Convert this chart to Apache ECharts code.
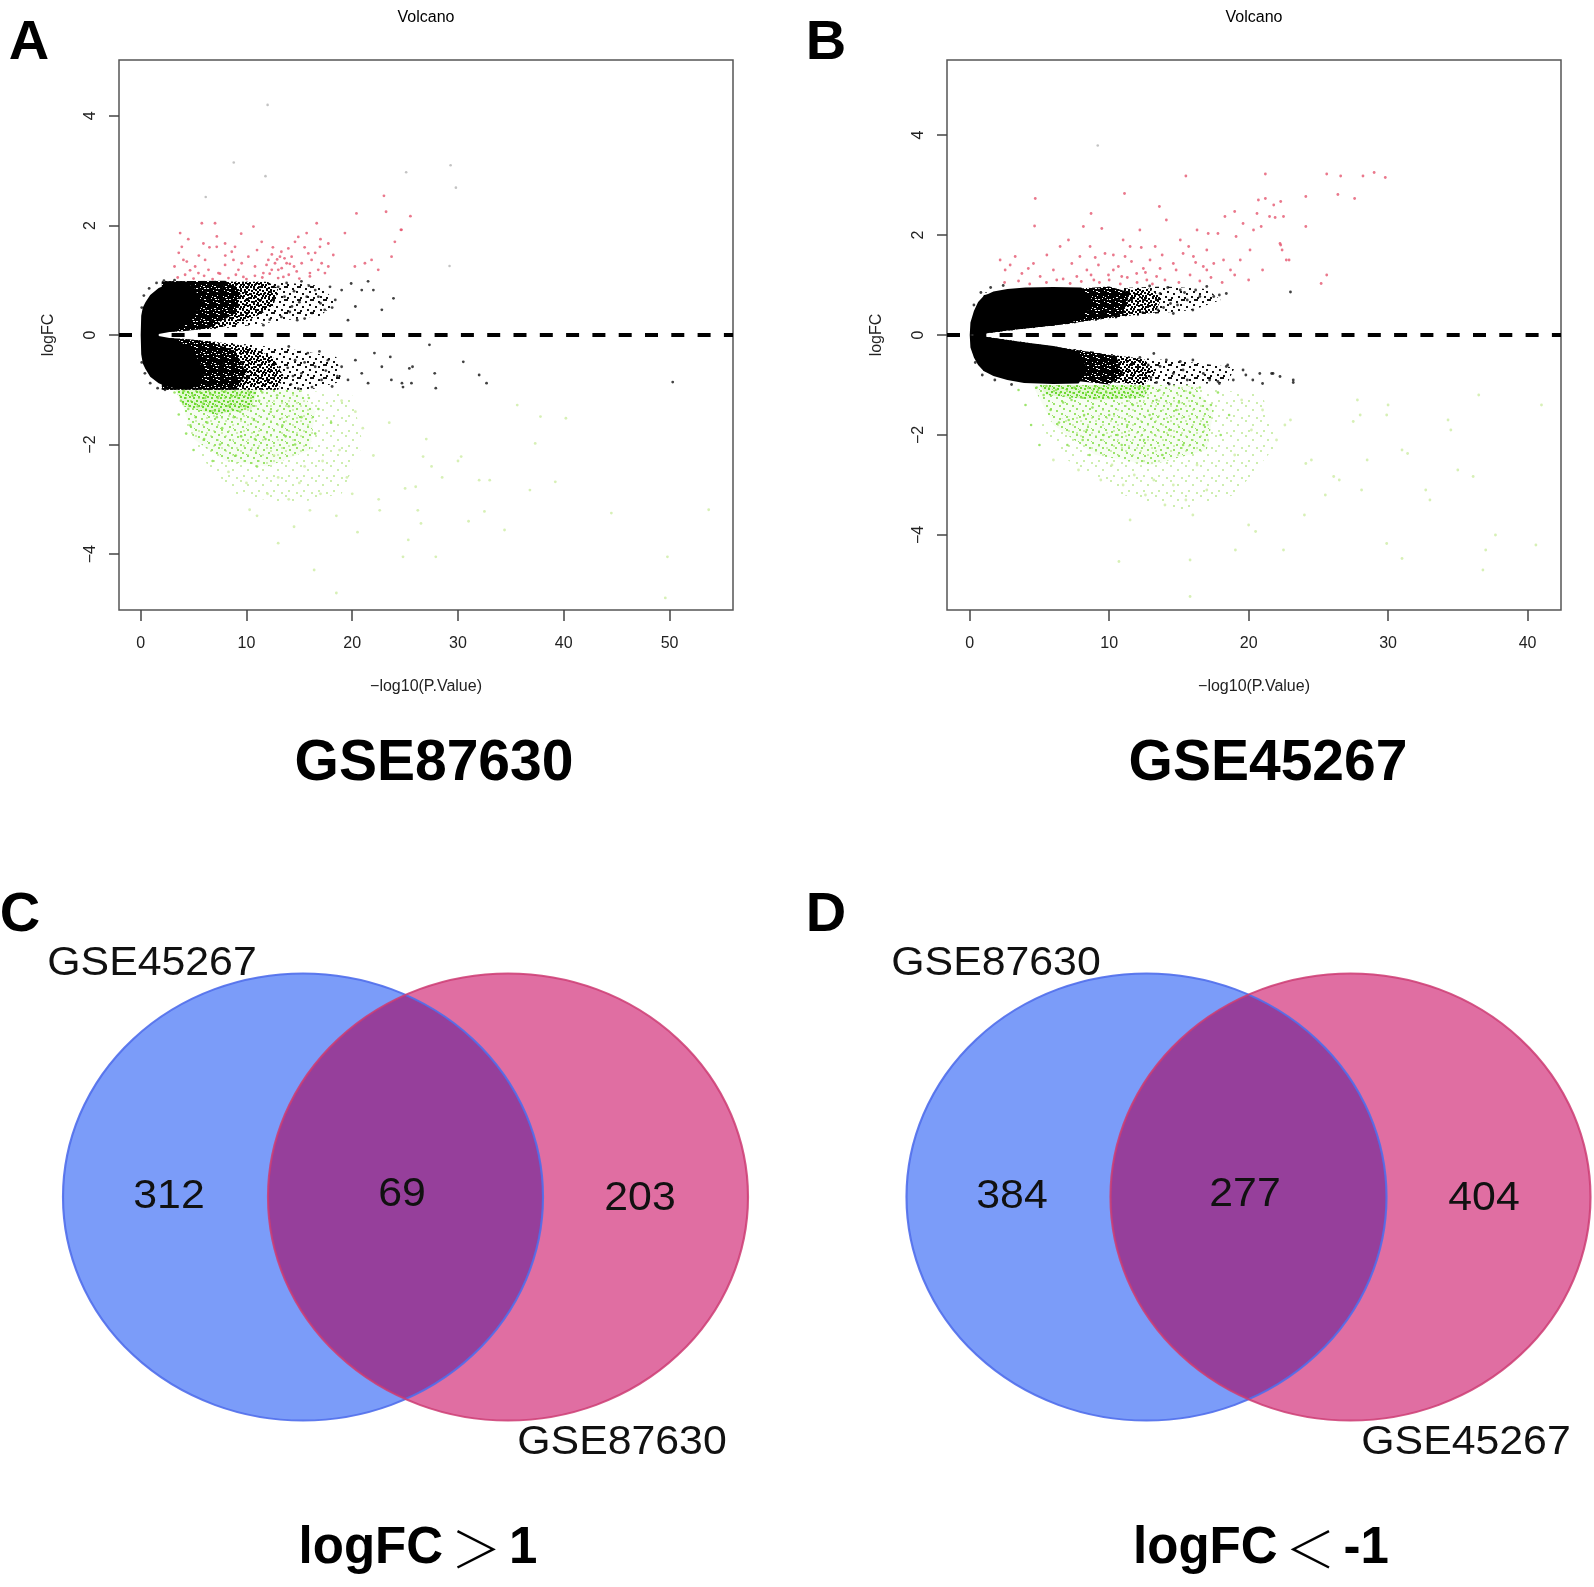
<!DOCTYPE html>
<html><head><meta charset="utf-8">
<script src="https://cdn.jsdelivr.net/npm/echarts@6/dist/echarts.min.js"></script>
<style>html,body{margin:0;padding:0;background:#fff}#c{width:1594px;height:1587px}</style>
</head><body><div id="c"></div>
<script>
// ---------------- DATA ----------------
const xTicksA = [0, 10, 20, 30, 40, 50];
const xTicksB = [0, 10, 20, 30, 40];
const yTicks = [-4, -2, 0, 2, 4];
const datasetNames = ['GSE87630', 'GSE45267'];
const vennCSets = ['GSE45267', 'GSE87630'];
const vennCCounts = [312, 69, 203];
const vennDSets = ['GSE87630', 'GSE45267'];
const vennDCounts = [384, 277, 404];
const vennTitles = [['logFC', '＞', '1'], ['logFC', '＜', '-1']];

// contours of the non-significant cloud (x = -log10 P, y = logFC), outer (sparse) to inner (solid)
const lightA = [
  [[2,0.05],[2,0.98],[14,0.95],[17,0.9],[18.5,0.6],[17,0.35],[13,0.25],[9,0.14]],
  [[2,-0.05],[2,-1.0],[16,-1.0],[19,-0.85],[18.5,-0.4],[14,-0.25],[9,-0.15]]
];
const midA = [
  [[2,0.05],[2,0.98],[12,0.97],[13,0.85],[12.5,0.5],[10,0.25],[7,0.12]],
  [[2,-0.05],[2,-1.0],[13,-1.0],[13.5,-0.75],[12.5,-0.4],[10,-0.2],[6,-0.1]]
];
const denseA = [
  [[2,0.05],[2,0.98],[8,0.99],[9.5,0.8],[9,0.4],[6.5,0.13],[4,0.07]],
  [[2,-0.05],[2,-1.0],[9,-1.0],[10,-0.7],[9,-0.3],[6.5,-0.12],[4,-0.07]]
];
const coreA = [[[0,0],[0.05,0.35],[0.2,0.5],[0.45,0.6],[0.9,0.73],[1.7,0.86],[2.6,0.93],[3.6,0.95],[5,0.9],[5.6,0.65],[5,0.3],[3.5,0.08],[1.7,0.02],[1.7,-0.02],[3.5,-0.08],[5,-0.3],[6,-0.65],[5.5,-0.95],[3.6,-0.98],[2.6,-0.95],[1.7,-0.88],[0.9,-0.76],[0.45,-0.62],[0.2,-0.52],[0.05,-0.35]]];
const lightB = [
  [[1,0.03],[1,0.85],[14,0.97],[17,0.92],[18,0.7],[16,0.5],[13,0.42],[8,0.25],[4,0.12]],
  [[1,-0.03],[1,-0.75],[15,-1.0],[18.5,-0.95],[19,-0.65],[16,-0.55],[12,-0.45],[8,-0.3],[4,-0.15]]
];
const midB = [
  [[1,0.03],[1,0.8],[12.7,0.95],[13.8,0.75],[13.3,0.45],[9,0.3],[4,0.13]],
  [[1,-0.03],[1,-0.72],[12.5,-1.0],[13.3,-0.75],[12.5,-0.48],[8,-0.32],[4,-0.15]]
];
const denseB = [
  [[1,0.03],[1,0.8],[10,0.97],[11.5,0.85],[11,0.4],[7,0.22],[3,0.1]],
  [[1,-0.03],[1,-0.72],[10,-0.99],[11,-0.8],[10.5,-0.42],[7,-0.27],[3,-0.12]]
];
const coreB = [
  [[0,0],[0.05,0.25],[0.3,0.48],[0.6,0.66],[1,0.78],[1.7,0.87],[2.7,0.92],[4,0.95],[6,0.96],[8,0.95],[8.8,0.7],[8,0.3],[6,0.19],[4,0.14],[2.7,0.09],[1.6,0.05],[0.8,0.015]],
  [[0,0],[0.05,-0.25],[0.3,-0.45],[0.6,-0.6],[1,-0.72],[1.7,-0.82],[2.7,-0.9],[3.9,-0.96],[6,-0.98],[7.8,-0.97],[8.5,-0.7],[7.8,-0.33],[6,-0.22],[4,-0.15],[2.7,-0.1],[1.6,-0.06],[0.8,-0.015]]
];
// contours of the down-regulated (green) cloud
const greenLightA = [[[15,-1.0],[20,-1.1],[21,-2.0],[19,-2.9],[14,-3.1],[9,-2.9],[6,-2.3],[4,-1.6]]];
const greenMidA = [[[3.5,-1.0],[15,-1.0],[16.5,-1.4],[16,-2.1],[12,-2.4],[8,-2.3],[5,-1.9]]];
const greenBandA = [[[3.3,-1.0],[11,-1.0],[10.5,-1.35],[7,-1.45],[4,-1.3]]];
const greenLightB = [[[15,-1.0],[21,-1.2],[22,-2.2],[19,-3.2],[15,-3.5],[11,-3.2],[7,-2.5],[5,-1.8]]];
const greenMidB = [[[4.5,-1.0],[16,-1.0],[17.5,-1.5],[17,-2.3],[13,-2.6],[9,-2.4],[6,-1.8]]];
const greenBandB = [[[5,-1.0],[13,-1.0],[12.5,-1.25],[9,-1.3],[5.5,-1.2]]];

// sparse black points
const blackA = [[13.0,0.88],[13.6,0.7],[14.3,0.52],[14.8,0.27],[15.2,0.98],[15.7,0.7],[16.2,0.4],[16.5,0.82],[17.0,0.58],[17.4,0.46],[17.9,0.88],[18.4,0.64],[19.0,0.82],[19.6,0.27],[19.9,0.94],[20.3,0.52],[20.9,0.82],[21.5,0.98],[22.8,0.46],[23.9,0.67],[22.0,0.82],[13.8,0.95],[14.5,0.8],[15.0,0.6],[15.9,0.9],[16.8,0.7],[14.1,0.42],[13.3,0.33],[15.5,0.3],[18.1,0.5],[12.2,0.28],[11.6,0.18],
  [14.0,-0.21],[14.6,-0.46],[15.2,-0.7],[15.8,-0.33],[16.5,-0.58],[17.1,-0.82],[17.7,-0.46],[18.1,-0.94],[19.0,-0.58],[19.6,-0.82],[20.3,-0.46],[20.9,-0.7],[21.5,-0.88],[22.1,-0.33],[22.8,-0.58],[23.6,-0.4],[23.7,-0.82],[24.7,-0.88],[25.4,-0.61],[25.6,-0.88],[27.3,-0.18],[27.8,-0.7],[27.9,-0.97],[30.5,-0.49],[32.0,-0.73],[32.7,-0.88],[50.3,-0.86],[25.7,-0.58],[24.8,-0.95],[14.2,-0.9],[14.9,-0.98],[15.5,-0.5],[16.2,-0.95],[16.9,-0.3],[13.9,-0.6],[14.4,-0.75],[17.5,-0.65],[18.6,-0.75],
  [0.3,0.72],[0.8,0.85],[1.5,0.95],[2.2,0.99],[3.2,1.0],[0.4,-0.7],[0.9,-0.88],[1.6,-0.97],[2.3,-1.0],[0.1,0.5],[0.1,-0.5]];
const blackB = [[13.65,0.83],[14.4,0.63],[14.6,0.43],[15.1,0.9],[15.6,0.7],[16.0,0.5],[16.5,0.77],[17.0,0.97],[17.5,0.77],[17.9,0.8],[18.4,0.83],[23.0,0.86],[13.9,0.55],[14.2,0.95],[14.9,0.6],[15.4,0.85],[16.2,0.9],[13.5,0.5],[12.9,0.98],[12.4,0.45],
  [13.2,-0.37],[13.65,-0.63],[14.1,-0.5],[14.6,-0.77],[15.1,-0.53],[15.6,-0.9],[16.0,-0.5],[16.75,-0.77],[17.2,-0.9],[17.9,-0.97],[18.4,-0.63],[18.9,-0.9],[19.6,-0.7],[20.3,-0.9],[20.8,-0.77],[21.65,-0.77],[22.25,-0.83],[23.2,-0.9],[23.2,-0.95],[21.75,-0.77],[21.0,-0.97],[19.8,-0.8],[18.5,-0.6],[17.8,-0.93],[13.0,-0.85],[13.4,-0.95],[12.8,-0.6],[14.3,-0.98],[15.3,-0.7],[12.2,-0.45],
  [0.3,0.6],[0.8,0.85],[1.5,0.95],[2.4,0.99],[0.4,-0.55],[0.9,-0.8],[1.8,-0.9],[3,-0.99]];

// up-regulated (red)
const redA = [[3.73,1.86],[3.89,1.61],[4.04,1.37],[4.36,1.34],[4.67,1.18],[5.78,2.04],[5.93,1.67],[5.15,1.25],[5.46,1.13],[6.09,1.37],[6.41,1.19],[7.03,2.04],[7.19,1.61],[7.35,1.13],[7.98,1.28],[7.98,1.67],[8.61,1.52],[8.77,1.37],[8.92,1.61],[9.24,1.19],[9.55,1.31],[9.71,1.06],[10.18,1.43],[10.66,1.98],[10.81,1.25],[11.44,1.7],[11.6,1.13],[12.07,1.37],[12.39,1.19],[12.7,1.31],[13.01,1.19],[13.17,1.43],[13.33,1.22],[13.49,1.06],[13.8,1.31],[13.96,1.58],[14.27,1.43],[14.59,1.7],[14.75,1.16],[14.9,1.79],[15.22,1.31],[15.69,1.86],[15.85,1.49],[16.0,1.13],[16.16,1.37],[16.64,2.04],[16.79,1.19],[16.95,1.61],[17.11,1.31],[17.42,1.13],[17.74,1.25],[17.74,1.67],[18.21,1.46],[19.31,1.86],[20.25,1.25],[21.2,1.31],[21.83,1.37],[22.46,1.19],[23.72,1.43],[24.03,1.7],[24.66,1.92],[3.5,1.05],[4.2,1.1],[5.0,1.03],[6.0,1.08],[6.8,1.02],[7.5,1.12],[8.3,1.04],[9.0,1.1],[10.0,1.02],[10.8,1.08],[11.5,1.05],[12.2,1.12],[13.0,1.04],[14.0,1.1],[15.0,1.03],[16.0,1.07],[3.2,1.25],[3.6,1.5],[4.5,1.75],[5.5,1.45],[6.5,1.6],[7.2,1.8],[8.0,1.45],[9.5,1.85],[11.0,1.55],[12.5,1.6],[13.6,1.4],[14.5,1.25],[15.5,1.6],[16.5,1.5],[17.0,1.75],[12.4,1.47],[12.9,1.38],[13.3,1.52],[14.1,1.3],[11.9,1.28],[20.4,2.22],[23.2,2.25],[25.5,2.17],[24.6,1.92],[23.0,2.54]];
const redB = [[2.18,1.5],[2.54,1.3],[2.9,1.4],[3.26,1.57],[3.74,1.23],[4.2,1.33],[4.57,1.43],[5.05,1.17],[5.53,1.6],[6.0,1.3],[6.24,1.1],[6.48,1.77],[7.08,1.9],[7.32,1.43],[7.68,1.17],[7.9,1.57],[8.15,2.17],[8.4,1.3],[8.63,1.77],[8.9,1.1],[9.23,1.4],[9.47,2.13],[9.7,1.63],[9.95,1.2],[10.3,1.3],[10.66,1.37],[10.9,1.17],[11.14,1.57],[11.5,1.77],[11.6,1.47],[11.97,1.23],[12.2,2.1],[12.45,1.33],[12.7,1.1],[12.93,1.5],[13.3,1.77],[13.4,1.17],[13.65,1.33],[14.1,2.3],[14.6,1.43],[15.1,1.9],[15.3,1.63],[15.7,1.77],[16.04,1.57],[16.3,2.1],[16.75,1.37],[17.0,1.7],[17.1,2.03],[17.5,1.43],[17.8,2.03],[18.2,1.5],[18.3,2.37],[18.7,1.3],[19.0,2.47],[19.1,1.97],[19.4,1.5],[19.6,2.23],[20.1,1.7],[20.35,2.1],[20.6,2.43],[20.7,2.7],[20.9,2.17],[21.2,2.73],[21.5,2.37],[21.8,2.6],[22.25,1.83],[22.4,1.7],[22.7,1.5],[2.5,1.05],[3.5,1.08],[4.3,1.02],[5.5,1.05],[6.7,1.12],[7.2,1.03],[8.0,1.07],[8.7,1.2],[9.3,1.05],[10.0,1.1],[10.8,1.02],[11.3,1.15],[12.0,1.05],[12.6,1.25],[13.1,1.02],[14.0,1.1],[15.0,1.05],[15.8,1.2],[16.5,1.08],[17.3,1.15],[18.1,1.05],[19.0,1.2],[20.0,1.1],[21.0,1.3],[10.3,1.6],[11.0,1.9],[9.0,1.55],[12.3,1.75],[13.8,1.6],[14.8,1.3],[16.2,1.45],[17.0,1.3],[15.5,3.18],[21.2,3.22],[25.6,3.22],[26.6,3.18],[28.2,3.18],[29.0,3.25],[29.8,3.15],[24.1,2.77],[26.4,2.81],[27.6,2.73],[11.1,2.83],[4.7,2.73],[4.65,2.18],[8.7,2.43],[13.6,2.57],[22.3,2.67],[22.5,2.37],[21.9,2.35],[24.1,2.17],[22.3,1.8],[22.9,1.5],[25.6,1.2],[25.2,1.03]];
// faint high outliers
const faintA = [[12.0,4.2],[8.8,3.15],[11.8,2.9],[29.3,3.1],[29.8,2.69],[6.15,2.52],[25.1,2.97],[29.2,1.26]];
const faintB = [[9.18,3.79]];

// down-regulated (green)
const greenA = [[3.2,-1.05],[3.8,-1.2],[4.1,-1.02],[4.5,-1.35],[4.9,-1.1],[5.2,-1.5],[5.6,-1.04],[5.9,-1.25],[6.3,-1.6],[6.6,-1.08],[7.0,-1.38],[7.3,-1.15],[7.7,-1.7],[8.0,-1.03],[8.4,-1.28],[8.8,-1.5],[9.1,-1.1],[9.5,-1.85],[9.9,-1.3],[10.3,-1.06],[10.7,-1.55],[11.2,-1.2],[11.8,-1.9],[12.3,-1.4],[12.9,-1.1],[13.4,-1.65],[14.0,-1.3],[14.6,-2.0],[15.2,-1.5],[15.9,-1.15],[16.5,-1.8],[18.0,-1.6],[4.3,-1.8],[5.0,-2.1],[6.0,-1.9],[6.8,-2.3],[7.5,-2.0],[9.0,-2.2],[11.0,-2.4],[3.6,-1.45],[4.7,-1.65],[5.4,-1.3],[6.1,-1.15],[7.2,-1.5],[8.6,-1.12],[9.4,-1.4],[10.8,-1.9],[11.5,-1.05],[13.7,-1.85],[16.8,-1.35]];
const paleA = [[17.2,-2.3],[18.8,-2.1],[19.5,-2.6],[20.3,-1.4],[8.3,-2.5],[10.0,-2.7],[12.0,-2.9],[13.0,-2.6],[14.0,-3.0],[15.0,-2.7],[16.0,-3.2],[17.0,-2.9],[18.5,-3.3],[12.6,-2.2],[15.5,-2.4],[19.0,-1.2],[20.0,-2.9],[21.0,-1.7],[22.0,-2.2],[23.5,-1.6],[25.0,-2.8],[26.2,-3.2],[27.0,-1.9],[28.5,-2.6],[30.0,-2.3],[31.0,-3.4],[35.6,-1.28],[37.8,-1.49],[40.2,-1.52],[37.3,-1.98],[39.2,-2.68],[36.8,-2.83],[32.5,-3.22],[34.4,-3.56],[44.5,-3.25],[53.7,-3.19],[49.8,-4.05],[49.6,-4.8],[26.7,-2.22],[30.3,-2.22],[26.0,-2.77],[26.5,-3.44],[25.3,-3.74],[24.8,-4.05],[27.9,-4.05],[16.4,-4.29],[13.0,-3.8],[10.3,-3.19],[18.5,-4.71],[32.0,-2.65],[33.0,-2.65],[22.6,-3.2],[11.0,-3.3],[14.5,-3.5],[20.5,-3.6],[22.5,-3.0],[27.5,-2.4]];
const greenB = [[4.8,-1.05],[5.3,-1.2],[5.8,-1.5],[6.2,-1.1],[6.7,-1.35],[7.1,-1.7],[7.5,-1.05],[8.0,-1.25],[8.4,-1.9],[8.8,-1.45],[9.2,-1.1],[9.6,-2.0],[10.0,-1.6],[10.5,-1.25],[10.9,-2.2],[11.3,-1.8],[11.7,-1.4],[12.1,-1.05],[12.5,-2.1],[12.9,-1.6],[13.4,-1.3],[13.8,-2.4],[14.3,-1.9],[14.8,-1.5],[15.3,-2.2],[15.8,-1.15],[16.8,-1.8],[17.3,-1.4],[18.0,-2.0],[18.6,-1.6],[3.5,-1.1],[4.0,-1.4],[4.4,-1.8],[5.0,-2.2],[7.0,-2.2],[8.6,-2.4],[6.4,-1.75],[7.3,-1.3],[8.2,-1.6],[9.8,-1.15],[11.5,-1.25],[13.6,-1.1],[15.0,-1.35],[16.5,-1.05],[5.5,-1.02],[9.0,-1.03],[12.8,-1.02],[17.8,-1.15],[10.6,-2.0],[8.1,-2.1]];
const paleB = [[6.0,-2.5],[7.8,-2.7],[9.4,-2.9],[10.2,-2.6],[11.0,-3.0],[11.8,-2.8],[12.6,-3.2],[13.2,-2.9],[14.0,-3.4],[14.6,-3.0],[15.5,-3.3],[16.0,-3.6],[17.0,-3.1],[16.3,-2.6],[19.5,-1.3],[20.2,-1.9],[19.0,-2.4],[21.0,-1.5],[22.0,-2.1],[23.0,-1.7],[24.5,-2.5],[25.5,-3.2],[26.5,-2.9],[28.0,-1.6],[28.5,-2.5],[30.0,-1.4],[31.0,-2.3],[33.0,-3.3],[34.5,-1.9],[35.0,-2.7],[36.5,-1.2],[29.9,-4.17],[31.0,-4.47],[37.0,-4.3],[37.7,-4.0],[36.8,-4.7],[40.6,-4.2],[10.7,-4.53],[15.8,-4.5],[15.8,-5.23],[19.05,-4.3],[20.5,-3.93],[29.9,-1.6],[34.3,-1.7],[27.5,-1.73],[31.4,-2.37],[36.1,-2.83],[32.7,-3.1],[28.1,-3.1],[26.1,-2.83],[24.1,-2.57],[22.6,-1.8],[27.8,-1.3],[11.5,-3.7],[20.0,-3.8],[24.0,-3.6],[22.5,-4.3],[41.0,-1.4]];

// ---------------- CHART ----------------
const FONT = '"Liberation Sans", Arial, Helvetica, sans-serif';
const chart = echarts.init(document.getElementById('c'), null, {renderer: 'canvas'});
const minus = v => String(v).replace('-', '\u2212');

// stipple textures (style only; fixed hand-placed dot layouts)
function texture(size, color, dots, dw, dh, bg, carve) {
  const c = document.createElement('canvas'); c.width = size; c.height = size;
  const g = c.getContext('2d');
  if (bg) { g.fillStyle = bg; g.fillRect(0, 0, size, size); }
  g.fillStyle = color;
  dots.forEach(d => carve ? g.clearRect(d[0], d[1], dw, dh) : g.fillRect(d[0], d[1], dw, dh));
  return {image: c, repeat: 'repeat'};
}
const texDense = texture(11, '#000', [[1,1],[5,0],[9,2],[3,4],[7,5],[0,7],[4,8],[8,9],[9,6],[2,10],[6,2]], 2, 1, '#000', true);
const texMid = texture(11, '#000', [[0,0],[4,1],[8,0],[2,3],[6,3],[9,4],[0,6],[4,5],[7,7],[1,9],[5,8],[9,9],[3,7]], 2, 2);
const texLight = texture(13, '#111', [[0,0],[6,2],[10,5],[3,7],[8,10],[1,11],[11,0]], 2, 2);
const texGreenBand = texture(9, '#6cd832', [[0,0],[4,1],[7,4],[2,5],[5,7],[8,8]], 2, 2, 'rgba(190,238,150,0.35)');
const texGreenMid = texture(13, '#9be36a', [[0,0],[6,2],[10,5],[3,7],[8,10],[12,12]], 2, 2, 'rgba(220,245,200,0.22)');
const texGreenLight = texture(15, '#cdeeae', [[0,0],[7,4],[3,10],[11,12]], 2, 2);

function polySeries(list, gi, fill, z) {
  return {type: 'custom', coordinateSystem: 'cartesian2d', xAxisIndex: gi, yAxisIndex: gi, silent: true, z: z, clip: true,
    data: list.map(p => p[0]),
    renderItem: (params, api) => ({type: 'polygon',
      shape: {points: list[params.dataIndex].map(pt => api.coord(pt))},
      style: {fill: fill}})};
}
function ptSeries(data, gi, color, size, z, extra) {
  return Object.assign({type: 'scatter', xAxisIndex: gi, yAxisIndex: gi, data: data, symbol: 'circle',
    symbolSize: size, itemStyle: {color: color}, silent: true, z: z}, extra || {});
}
function xAx(gi, min, max, ticks) {
  return {type: 'value', gridIndex: gi, min: min, max: max, axisLine: {show: false, onZero: false}, splitLine: {show: false},
    axisTick: {show: true, customValues: ticks, length: 11, lineStyle: {color: '#444', width: 1.5}},
    axisLabel: {customValues: ticks, margin: 26, fontSize: 16, color: '#222', fontFamily: FONT},
    name: '\u2212log10(P.Value)', nameLocation: 'middle', nameGap: 69,
    nameTextStyle: {fontSize: 16, color: '#222', fontFamily: FONT}};
}
function yAx(gi, lim) {
  return {type: 'value', gridIndex: gi, min: -lim, max: lim, axisLine: {show: false, onZero: false}, splitLine: {show: false},
    axisTick: {show: true, customValues: yTicks, length: 10, lineStyle: {color: '#444', width: 1.5}},
    axisLabel: {customValues: yTicks, rotate: 90, margin: 20, fontSize: 16, color: '#222', fontFamily: FONT, formatter: minus},
    name: 'logFC', nameLocation: 'middle', nameRotate: 90, nameGap: 62,
    nameTextStyle: {fontSize: 16, color: '#222', fontFamily: FONT}};
}
const zeroLine = {silent: true, symbol: 'none', label: {show: false},
  lineStyle: {color: '#000', width: 4, type: [13, 13.3], opacity: 1}, data: [{yAxis: 0}]};

function volcanoSeries(gi, light, mid, dense, core, gLight, gMid, gBand, black, red, faint, green, pale) {
  return [
    polySeries(gLight, gi, texGreenLight, 1),
    polySeries(gMid, gi, texGreenMid, 1),
    polySeries(gBand, gi, texGreenBand, 1),
    polySeries(light, gi, texLight, 2),
    polySeries(mid, gi, texMid, 2),
    polySeries(dense, gi, texDense, 2),
    polySeries(core, gi, '#000', 2),
    ptSeries(black, gi, '#111', 2.8, 3),
    ptSeries(pale, gi, '#cdeca4', 2.8, 3),
    ptSeries(green, gi, '#86de48', 2.6, 3),
    ptSeries(faint, gi, '#b4b4b4', 2.6, 3),
    ptSeries(red, gi, '#e5566f', 2.8, 4, {markLine: zeroLine})
  ];
}

// ----- Venn geometry (layout) -----
function vennGraphics(c1, c2, cy, rx, ry, sets, counts, title, pos) {
  const blueFill = '#7b9cf9', pinkFill = '#e06ea2', lensFill = '#963f9b';
  const els = [];
  const ell = (cx, fill, stroke) => ({type: 'circle', x: cx, y: cy, scaleX: rx / ry, scaleY: 1,
    shape: {cx: 0, cy: 0, r: ry}, style: {fill: fill, stroke: stroke, lineWidth: stroke ? 2 : 0, strokeNoScale: true}, silent: true});
  els.push(ell(c1, blueFill, null));
  els.push(ell(c2, pinkFill, null));
  const xm = (c1 + c2) / 2, t0 = Math.acos((xm - c1) / rx), pts = [], N = 120;
  for (let i = 0; i <= N; i++) { const t = -t0 + 2 * t0 * i / N; pts.push([c1 + rx * Math.cos(t), cy + ry * Math.sin(t)]); }
  for (let i = 0; i <= N; i++) { const t = Math.PI - t0 + 2 * t0 * i / N; pts.push([c2 + rx * Math.cos(t), cy + ry * Math.sin(t)]); }
  els.push({type: 'polygon', shape: {points: pts}, style: {fill: lensFill}, silent: true});
  els.push(ell(c1, 'none', 'rgba(80,110,235,0.9)'));
  els.push(ell(c2, 'none', 'rgba(205,60,115,0.85)'));
  const txt = (x, y, s) => ({type: 'text', x: x, y: y, scaleX: 1.07, silent: true,
    style: {text: String(s), font: '40px ' + FONT, fill: '#111', textAlign: 'center', textVerticalAlign: 'middle', align: 'center', verticalAlign: 'middle'}});
  els.push(txt(pos[0][0], pos[0][1], sets[0]));
  els.push(txt(pos[1][0], pos[1][1], counts[0]));
  els.push(txt(pos[2][0], pos[2][1], counts[1]));
  els.push(txt(pos[3][0], pos[3][1], counts[2]));
  els.push(txt(pos[4][0], pos[4][1], sets[1]));
  els.push({type: 'text', x: pos[5][0], y: pos[5][1], silent: true,
    style: {text: '{b|' + title[0] + '}{s|' + title[1] + '}{b|' + title[2] + '}',
      textAlign: 'center', textVerticalAlign: 'middle', align: 'center', verticalAlign: 'middle',
      rich: {b: {font: 'bold 51px ' + FONT, fill: '#000'},
             s: {font: '300 50px "Noto Sans CJK SC", sans-serif', fill: '#000', padding: [0, 8, 0, 8]}}}});
  return els;
}
function label(x, y, s, font) {
  return {type: 'text', x: x, y: y, silent: true,
    style: {text: s, font: font, fill: '#000', textAlign: 'center', textVerticalAlign: 'middle', align: 'center', verticalAlign: 'middle'}};
}

const graphics = [].concat(
  [label(29, 44, 'A', 'bold 56px ' + FONT), label(826, 44, 'B', 'bold 56px ' + FONT),
   label(20, 916, 'C', 'bold 56px ' + FONT), label(826, 916, 'D', 'bold 56px ' + FONT),
   label(426, 18, 'Volcano', '16px ' + FONT), label(1254, 18, 'Volcano', '16px ' + FONT),
   label(434, 764, datasetNames[0], 'bold 57px ' + FONT), label(1268, 764, datasetNames[1], 'bold 57px ' + FONT)],
  vennGraphics(303, 508, 1197, 240, 223.5, vennCSets, vennCCounts, vennTitles[0],
    [[152, 964], [169, 1197], [402, 1195], [640, 1199], [622, 1443], [418, 1549]]),
  vennGraphics(1146.5, 1350.5, 1197, 240, 223.5, vennDSets, vennDCounts, vennTitles[1],
    [[996, 964], [1012, 1197], [1245, 1195], [1484, 1199], [1466, 1443], [1261, 1549]])
);

chart.setOption({
  animation: false,
  backgroundColor: '#fff',
  grid: [
    {left: 119, top: 60, width: 614, height: 550, show: true, borderColor: '#555', borderWidth: 1.5, backgroundColor: 'transparent'},
    {left: 947, top: 60, width: 614, height: 550, show: true, borderColor: '#555', borderWidth: 1.5, backgroundColor: 'transparent'}
  ],
  xAxis: [xAx(0, -2.05, 56, xTicksA), xAx(1, -1.63, 42.4, xTicksB)],
  yAxis: [yAx(0, 5.02), yAx(1, 5.5)],
  series: [].concat(
    volcanoSeries(0, lightA, midA, denseA, coreA, greenLightA, greenMidA, greenBandA, blackA, redA, faintA, greenA, paleA),
    volcanoSeries(1, lightB, midB, denseB, coreB, greenLightB, greenMidB, greenBandB, blackB, redB, faintB, greenB, paleB)
  ),
  graphic: graphics
});
</script></body></html>
